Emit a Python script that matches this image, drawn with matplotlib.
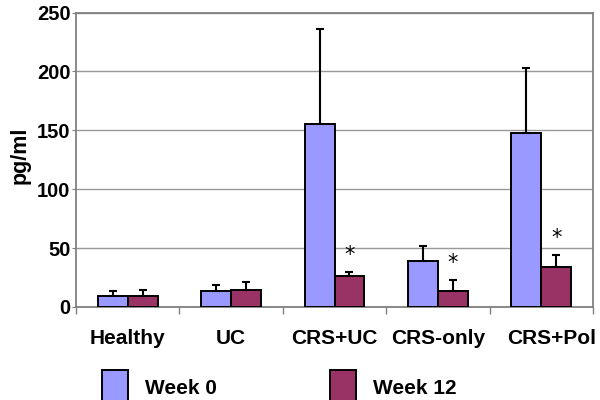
import matplotlib
matplotlib.use("Agg")
import matplotlib.pyplot as plt
import matplotlib.transforms as mtransforms
import numpy as np

categories = ["Healthy", "UC", "CRS+UC", "CRS-only", "CRS+Pol"]
week0 = [9, 13.5, 155.5, 39, 147.5]
week0_err = [4.3, 4.8, 80.5, 13, 55.5]
week12 = [9, 14.5, 26, 13.3, 34]
week12_err = [5.5, 6.5, 4, 9.3, 10]
significant12 = [False, False, True, True, True]
series_names = ["Week 0", "Week 12"]
yticks = [0, 50, 100, 150, 200, 250]

plt.rcParams['font.family'] = ['Liberation Sans', 'DejaVu Sans']
fig = plt.figure(figsize=(6, 4), dpi=100)
ax = fig.add_axes([76/600, 1-307/400, 517/600, 294.5/400])

x = np.arange(len(categories))
w = 0.29
blue = '#9999FF'
red = '#993366'
ekw = dict(ecolor='black', elinewidth=1.5, capsize=3.2, capthick=1.5)
b0 = ax.bar(x - w/2, week0, w, color=blue, edgecolor='black', linewidth=1.4, zorder=3,
            yerr=[np.zeros(len(x)), week0_err], error_kw=ekw, label=series_names[0])
b1 = ax.bar(x + w/2, week12, w, color=red, edgecolor='black', linewidth=1.4, zorder=3,
            yerr=[np.zeros(len(x)), week12_err], error_kw=ekw, label=series_names[1])

for xi, v, e, s in zip(x, week12, week12_err, significant12):
    if s:
        ax.annotate('*', (xi + w/2, v + e), xytext=(0, 5), textcoords='offset points',
                    ha='center', va='bottom', fontsize=15, family='DejaVu Sans', zorder=4)

ax.set_xlim(-0.5, len(categories) - 0.5)
ax.set_ylim(0, 250)
ax.set_yticks(yticks)
ax.set_yticklabels([str(t) for t in yticks], fontsize=14.5, fontweight='bold')
ax.yaxis.grid(True, color='#999999', linewidth=1.0, zorder=0)
ax.set_axisbelow(True)
ax.tick_params(axis='y', length=3, color='#808080', pad=1)

ax.set_xticks(x)
ax.set_xticklabels(categories, fontsize=15, fontweight='bold')
ax.tick_params(axis='x', which='major', length=0, pad=16)
ax.set_xticks(np.arange(len(categories) + 1) - 0.5, minor=True)
ax.tick_params(axis='x', which='minor', length=5, color='#808080', width=1)

last = ax.get_xticklabels()[-1]
last.set_ha('left')
last.set_transform(last.get_transform() + mtransforms.ScaledTranslation(-34/100, 0, fig.dpi_scale_trans))

for sp in ax.spines.values():
    sp.set_color('#808080')
    sp.set_linewidth(1.3)

ax.set_ylabel('pg/ml', fontsize=15.5, fontweight='bold')
ax.yaxis.set_label_coords(-0.087, 0.516)

leg = fig.legend(handles=[b0, b1], labels=series_names, loc='center left',
                 bbox_to_anchor=(102/600, 1-388/400), ncol=2, frameon=False,
                 borderpad=0, borderaxespad=0, handlelength=1.25, handleheight=2.3,
                 handletextpad=0.82, columnspacing=5.4,
                 prop={'size': 15, 'weight': 'bold'})

fig.savefig('out.png', dpi=100)
